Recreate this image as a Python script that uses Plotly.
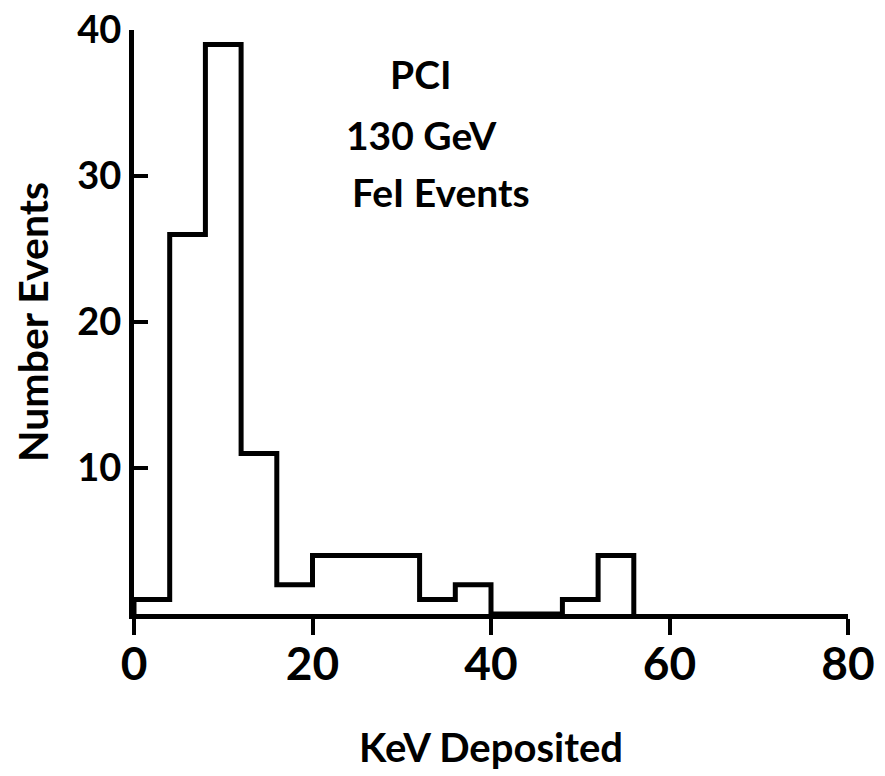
import plotly.graph_objects as go

# Histogram data (4 keV bins)
bin_edges = [0, 4, 8, 12, 16, 20, 24, 28, 32, 36, 40, 44, 48, 52, 56]
counts = [1, 26, 39, 11, 2, 4, 4, 4, 1, 2, 0, 0, 1, 4]

x_ticks = [0, 20, 40, 60, 80]
x_ticklabels = ["0", "20", "40", "60", "80"]
y_ticks = [10, 20, 30, 40]
y_ticklabels = ["10", "20", "30", "40"]

label_lines = ["PCI", "130 GeV", "FeI Events"]

# step path: start at baseline, then one point per bin, end at baseline
xs = [bin_edges[0]] + bin_edges[:-1] + [bin_edges[-1]]
ys = [0] + counts + [0]

FONT = "Lato"

fig = go.Figure()
fig.add_trace(go.Scatter(
    x=xs, y=ys, mode="lines", line=dict(shape="hv", color="black", width=5),
    cliponaxis=False, hoverinfo="skip", showlegend=False,
))

ann_font = dict(size=39, family=FONT, color="black", weight="bold")
fig.update_layout(
    width=885, height=776,
    margin=dict(l=126, r=45, t=22, b=170),
    paper_bgcolor="white", plot_bgcolor="white",
    font=dict(family=FONT, color="black"),
    showlegend=False,
    annotations=[
        dict(x=32.2, y=37.0, xref="x", yref="y", text=label_lines[0], showarrow=False, font=ann_font),
        dict(x=32.2, y=32.8, xref="x", yref="y", text=label_lines[1], showarrow=False, font=ann_font),
        dict(x=34.4, y=28.9, xref="x", yref="y", text=label_lines[2], showarrow=False, font=ann_font),
    ],
)

fig.update_xaxes(
    range=[0, 80], tickvals=x_ticks, ticktext=x_ticklabels, automargin=False,
    showline=True, linewidth=5, linecolor="black",
    ticks="outside", ticklen=16, tickwidth=4, tickcolor="black",
    tickfont=dict(size=46, family=FONT, color="black", weight="bold"),
    ticklabelstandoff=-10, ticklabeloverflow="allow",
    showgrid=False, zeroline=False,
    title=dict(text="KeV Deposited", font=dict(size=40, family=FONT, color="black", weight="bold"), standoff=46),
)
fig.update_yaxes(
    range=[0, 40], tickvals=y_ticks, ticktext=y_ticklabels, automargin=False,
    showline=True, linewidth=5, linecolor="black",
    ticks="inside", ticklen=14, tickwidth=4, tickcolor="black",
    tickfont=dict(size=38, family=FONT, color="black", weight="bold"),
    ticklabeloverflow="allow",
    showgrid=False, zeroline=False,
    title=dict(text="Number Events", font=dict(size=41, family=FONT, color="black", weight="bold"), standoff=34),
)

fig.write_html("out.html")
